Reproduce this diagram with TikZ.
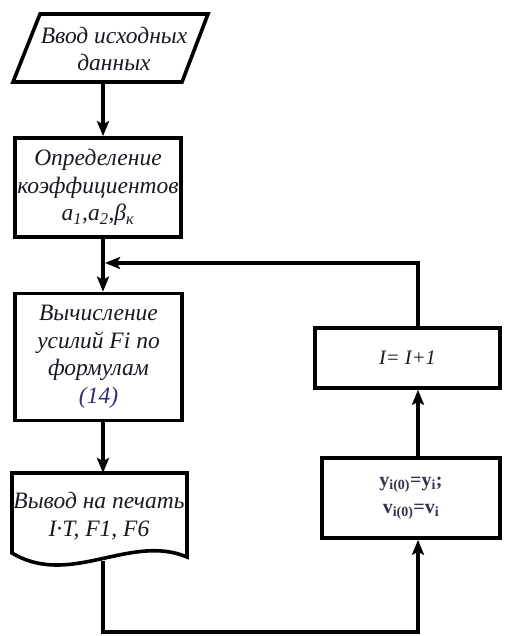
\documentclass[tikz,border=0pt]{standalone}
\usepackage{fontspec}
\setmainfont{Liberation Serif}
\usetikzlibrary{arrows.meta}
\definecolor{ink}{RGB}{25,25,35}
\definecolor{refblue}{RGB}{45,45,120}
\definecolor{slate}{RGB}{50,52,75}
\begin{document}
\begin{tikzpicture}[x=1pt,y=-1pt,
  flow/.style={draw=black, line width=3.6pt, line join=miter},
  txt/.style={text=ink, font=\fontsize{23.5}{27.5}\selectfont\itshape, align=center, inner sep=0pt},
  blk/.style={flow, rectangle, txt},
  conn/.style={line width=3.6pt, -{Stealth[length=15pt,width=12pt,inset=3pt]}}]
\useasboundingbox (0,0) rectangle (504,636);

% input parallelogram
\draw[flow] (40,14) -- (208,14) -- (182,82) -- (13,82) -- cycle;
\node[txt] (in) at (114,49) {Ввод исходных\\данных};

% coefficient box
\node[blk, minimum width=166pt, minimum height=99pt] (coef) at (98,187.5)
  {Определение\\коэффициентов\\a\textsubscript{1},a\textsubscript{2},β\textsubscript{к}};

% force computation box
\node[blk, minimum width=167pt, minimum height=127pt] (calc) at (98.5,357)
  {Вычисление\\усилий Fi по\\формулам\\\textcolor{refblue}{(14)}};

% print (document) shape
\draw[flow] (12,473) -- (187,473) -- (187,557)
  .. controls (130,533) and (70,588) .. (12,553) -- cycle;
\node[txt] (doc) at (99,516) {Вывод на печать\\I·T, F1, F6};

% counter increment box
\node[blk, minimum width=185pt, minimum height=60pt, font=\fontsize{20.5}{24}\selectfont\itshape] (inc) at (407.5,358) {I= I+1};

% initial values box
\node[flow, rectangle, inner sep=0pt, minimum width=178pt, minimum height=80pt,
  text=slate, align=center, font=\fontsize{20}{27}\selectfont\bfseries] (init) at (411,498)
  {y\textsubscript{i(0)}=y\textsubscript{i};\\v\textsubscript{i(0)}=v\textsubscript{i}};

% helper coordinates for routing
\coordinate (cx) at (103,0);
\coordinate (rx) at (418,0);
\coordinate (bot) at (0,632);
\coordinate (inb) at (103,82);
\coordinate (docin) at (103,473);
\coordinate (docout) at (103,561);
\coordinate (join) at (105,263);

% connectors
\draw[conn] (inb) -- (coef.north -| cx);
\draw[conn] (coef.south -| cx) -- (calc.north -| cx);
\draw[conn] (calc.south -| cx) -- (docin);
\draw[conn] (docout) -- (docout |- bot) -| (init.south -| rx);
\draw[conn] (init.north -| rx) -- (inc.south -| rx);
\draw[conn] (inc.north -| rx) |- (join);
\end{tikzpicture}
\end{document}
